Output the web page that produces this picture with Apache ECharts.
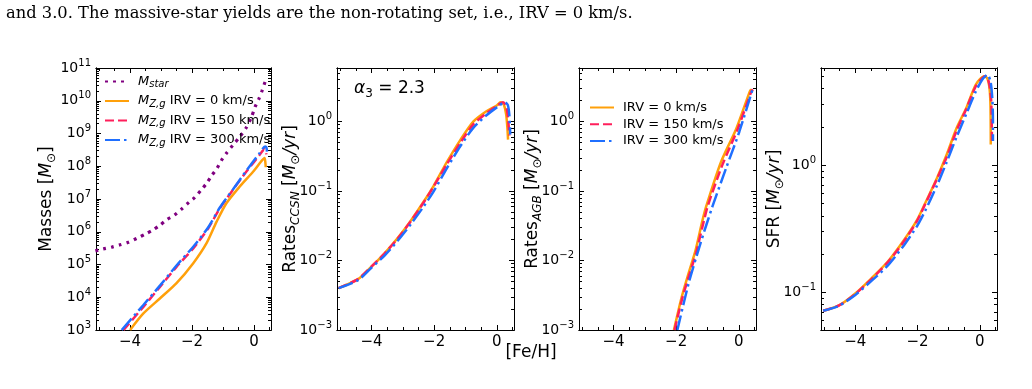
<!DOCTYPE html>
<html>
<head>
<meta charset="utf-8">
<script src="https://cdn.jsdelivr.net/npm/echarts@6/dist/echarts.min.js"></script>
<style>
html, body { margin: 0; padding: 0; background: #fff; }
#chart { width: 1032px; height: 389px; }
</style>
</head>
<body>
<div id="chart"></div>
<script>
// tick labels
const xTicks = [-4, -2, 0]
const xMinorTicks = [-5, -4.5, -3.5, -3, -2.5, -1.5, -1, -0.5, 0.5]
const massTicks = [1e3, 1e4, 1e5, 1e6, 1e7, 1e8, 1e9, 1e10, 1e11]
const rateTicks = [1e-3, 1e-2, 1e-1, 1]
const sfrTicks = [0.1, 1]

// panel 1: masses vs [Fe/H]
const mStarFeH = [-5.12, -4.86, -4.59, -4.32, -4.05, -3.78, -3.51, -3.27, -3.03, -2.8, -2.57, -2.34, -2.1, -1.91, -1.71, -1.53, -1.35, -1.19, -1.05, -0.89, -0.68, -0.46, -0.25, -0.09, 0.04, 0.15, 0.26, 0.36, 0.4]
const mStar = [2.6e5, 3.0e5, 3.4e5, 4.0e5, 4.8e5, 6.3e5, 8.5e5, 1.12e6, 1.6e6, 2.4e6, 3.2e6, 4.9e6, 7.9e6, 1.12e7, 1.86e7, 3.0e7, 5.4e7, 8.7e7, 1.5e8, 2.5e8, 4.4e8, 7.9e8, 1.5e9, 3.0e9, 6.6e9, 1.1e10, 2.0e10, 3.8e10, 4.5e10]
const mZ0FeH = [-4.0, -3.57, -3.03, -2.5, -1.96, -1.53, -1.21, -0.89, -0.46, -0.03, 0.23, 0.34, 0.37, 0.38]
const mZ0 = [1.0e3, 3.2e3, 9.3e3, 2.7e4, 1.1e5, 4.5e5, 2.0e6, 7.4e6, 2.4e7, 6.8e7, 1.4e8, 1.8e8, 1.26e8, 9.3e7]
const mZ150FeH = [-4.21, -3.57, -3.03, -2.5, -1.96, -1.48, -1.1, -0.68, -0.25, 0.18, 0.34, 0.38, 0.4]
const mZ150 = [1.0e3, 5.1e3, 2.1e4, 8.5e4, 3.1e5, 1.26e6, 5.2e6, 1.9e7, 6.8e7, 2.2e8, 3.3e8, 2.8e8, 2.3e8]
const mZ300FeH = [-4.27, -3.57, -3.03, -2.5, -1.96, -1.48, -1.1, -0.68, -0.25, 0.18, 0.36, 0.4, 0.42]
const mZ300 = [1.0e3, 5.8e3, 2.3e4, 9.3e4, 3.5e5, 1.35e6, 5.5e6, 1.95e7, 7.2e7, 2.5e8, 4.0e8, 3.8e8, 2.8e8]

// panel 2: CCSN rates
const ccsn0FeH = [-5.05, -4.43, -4.01, -3.59, -3.17, -2.75, -2.33, -2.01, -1.59, -1.17, -0.75, -0.33, 0.0, 0.12, 0.22, 0.3, 0.34, 0.36]
const ccsn0 = [0.004, 0.0054, 0.0081, 0.0126, 0.0209, 0.0372, 0.0708, 0.12, 0.263, 0.537, 1.0, 1.41, 1.7, 1.9, 1.78, 1.26, 0.8, 0.55]
const ccsn150FeH = [-5.05, -4.43, -4.01, -3.59, -3.17, -2.75, -2.33, -2.01, -1.59, -1.17, -0.75, -0.33, 0.05, 0.2, 0.3, 0.36, 0.4]
const ccsn150 = [0.004, 0.0054, 0.0081, 0.0125, 0.0205, 0.0365, 0.069, 0.117, 0.245, 0.49, 0.91, 1.32, 1.74, 1.9, 1.66, 1.12, 0.63]
const ccsn300FeH = [-5.05, -4.43, -4.01, -3.59, -3.17, -2.75, -2.33, -2.01, -1.59, -1.17, -0.75, -0.33, 0.05, 0.25, 0.35, 0.4, 0.43]
const ccsn300 = [0.004, 0.0052, 0.0078, 0.0117, 0.0191, 0.0331, 0.0603, 0.1, 0.214, 0.437, 0.81, 1.23, 1.66, 1.9, 1.74, 1.26, 0.65]

// panel 3: AGB rates
const agb0FeH = [-2.07, -1.82, -1.6, -1.38, -1.17, -1.04, -0.57, -0.08, 0.35, 0.4]
const agb0 = [1.0e-3, 3.0e-3, 6.6e-3, 1.4e-2, 3.6e-2, 6.0e-2, 0.26, 0.79, 2.7, 2.9]
const agb150FeH = [-2.05, -1.8, -1.58, -1.36, -1.15, -0.98, -0.52, -0.03, 0.4, 0.45]
const agb150 = [1.0e-3, 2.9e-3, 6.2e-3, 1.3e-2, 3.2e-2, 6.3e-2, 0.24, 0.79, 2.7, 2.9]
const agb300FeH = [-1.96, -1.6, -1.22, -0.84, -0.41, 0.02, 0.45]
const agb300 = [1.0e-3, 4.7e-3, 1.78e-2, 6.0e-2, 0.21, 0.72, 3.0]

// panel 4: star formation rate
const sfr0FeH = [-5.03, -4.52, -4.0, -3.48, -2.96, -2.44, -2.02, -1.76, -1.38, -1.07, -0.75, -0.44, -0.13, 0.14, 0.24, 0.31, 0.34, 0.35]
const sfr0 = [0.0716, 0.079, 0.098, 0.129, 0.174, 0.257, 0.37, 0.5, 0.79, 1.2, 1.95, 2.8, 4.3, 5.0, 4.8, 4.0, 2.95, 1.45]
const sfr150FeH = [-5.03, -4.52, -4.0, -3.48, -2.96, -2.44, -2.02, -1.76, -1.38, -1.07, -0.75, -0.44, -0.13, 0.1, 0.2, 0.3, 0.36, 0.38, 0.39]
const sfr150 = [0.0716, 0.079, 0.097, 0.127, 0.172, 0.251, 0.363, 0.49, 0.776, 1.15, 1.86, 2.75, 4.17, 4.9, 5.0, 4.37, 3.31, 2.24, 1.51]
const sfr300FeH = [-5.03, -4.52, -4.0, -3.48, -2.96, -2.44, -2.02, -1.76, -1.38, -1.07, -0.75, -0.44, -0.13, 0.1, 0.24, 0.34, 0.4, 0.42, 0.42]
const sfr300 = [0.0716, 0.0785, 0.0955, 0.123, 0.162, 0.234, 0.331, 0.436, 0.69, 1.05, 1.66, 2.51, 3.8, 4.79, 5.13, 4.57, 3.31, 2.24, 1.55]

const FONT = 'DejaVu Sans'
const PURPLE = '#800080'
const ORANGE = '#ffa00a'
const PINK = '#ff1f5b'
const BLUE = '#1f6fff'

const zip = (xs, ys) => xs.map((x, i) => [x, ys[i]])

const logMinors = (lo, hi) => {
    const out = []
    for (let d = Math.floor(Math.log10(lo)); d <= Math.ceil(Math.log10(hi)); d++) {
        for (let k = 2; k <= 9; k++) {
            const v = k * Math.pow(10, d)
            if (v > lo && v < hi) out.push(v)
        }
    }
    return out
}

const powLabel = v => {
    const e = Math.round(Math.log10(v))
    return '{b|10}{s|' + (e < 0 ? '\u2212' + (-e) : e) + '}'
}

const grids = [
    { left: 96, top: 68, width: 175, height: 262 },
    { left: 337, top: 68, width: 177, height: 262 },
    { left: 579, top: 68, width: 177, height: 262 },
    { left: 821, top: 68, width: 176, height: 262 },
]
const yRanges = [[1e3, 1e11], [1e-3, 5.9], [1e-3, 5.9], [0.0506, 5.8]]
const yMajors = [massTicks, rateTicks, rateTicks, sfrTicks]

const nameRich = {
    r: { fontFamily: FONT, fontSize: 17, lineHeight: 22, color: '#000' },
    i: { fontFamily: FONT, fontSize: 17, lineHeight: 22, fontStyle: 'italic', color: '#000' },
    sub: { fontFamily: FONT, fontSize: 12, lineHeight: 12, fontStyle: 'italic', verticalAlign: 'bottom', color: '#000' },
}
const yNames = [
    { text: '{r|Masses [}{i|M}{sub|\u2299}{r|]}', gap: 38 },
    { text: '{r|Rates}{sub|CCSN}{r| [}{i|M}{sub|\u2299}{i|/yr}{r|]}', gap: 35 },
    { text: '{r|Rates}{sub|AGB}{r| [}{i|M}{sub|\u2299}{i|/yr}{r|]}', gap: 35 },
    { text: '{r|SFR [}{i|M}{sub|\u2299}{i|/yr}{r|]}', gap: 35 },
]

const tickLabelRich = {
    b: { fontFamily: FONT, fontSize: 14, lineHeight: 20, color: '#000' },
    s: { fontFamily: FONT, fontSize: 10, lineHeight: 10, verticalAlign: 'top', color: '#000' },
}

const xAxes = []
const yAxes = []
grids.forEach((g, gi) => {
    const xBase = {
        type: 'value', gridIndex: gi, min: -5.1, max: 0.55,
        splitLine: { show: false },
        axisLine: { show: true, onZero: false, lineStyle: { color: '#000', width: 1 } },
    }
    // bottom with labels, bottom minor, top major, top minor
    xAxes.push({
        ...xBase, position: 'bottom',
        axisTick: { inside: true, length: 5, customValues: xTicks, lineStyle: { color: '#000' } },
        axisLabel: {
            customValues: xTicks, margin: 5, color: '#000', fontFamily: FONT, fontSize: 15,
            formatter: v => (v < 0 ? '\u2212' + (-v) : '' + v),
        },
    })
    xAxes.push({
        ...xBase, position: 'bottom',
        axisTick: { inside: true, length: 3, customValues: xMinorTicks, lineStyle: { color: '#000' } },
        axisLabel: { show: false },
    })
    xAxes.push({
        ...xBase, position: 'top',
        axisTick: { inside: true, length: 5, customValues: xTicks, lineStyle: { color: '#000' } },
        axisLabel: { show: false },
    })
    xAxes.push({
        ...xBase, position: 'top',
        axisTick: { inside: true, length: 3, customValues: xMinorTicks, lineStyle: { color: '#000' } },
        axisLabel: { show: false },
    })

    const [lo, hi] = yRanges[gi]
    const minors = logMinors(lo, hi)
    const yBase = {
        type: 'log', logBase: 10, gridIndex: gi, min: lo, max: hi,
        splitLine: { show: false },
        axisLine: { show: true, onZero: false, lineStyle: { color: '#000', width: 1 } },
    }
    yAxes.push({
        ...yBase, position: 'left',
        name: yNames[gi].text, nameLocation: 'middle', nameRotate: 90, nameGap: yNames[gi].gap,
        nameMoveOverlap: false,
        nameTextStyle: { rich: nameRich },
        axisTick: { inside: true, length: 5, customValues: yMajors[gi], lineStyle: { color: '#000' } },
        axisLabel: {
            customValues: yMajors[gi], margin: 5, formatter: powLabel, rich: tickLabelRich,
        },
    })
    yAxes.push({
        ...yBase, position: 'left',
        axisTick: { inside: true, length: 3, customValues: minors, lineStyle: { color: '#000' } },
        axisLabel: { show: false },
    })
    yAxes.push({
        ...yBase, position: 'right',
        axisTick: { inside: true, length: 5, customValues: yMajors[gi], lineStyle: { color: '#000' } },
        axisLabel: { show: false },
    })
    yAxes.push({
        ...yBase, position: 'right',
        axisTick: { inside: true, length: 3, customValues: minors, lineStyle: { color: '#000' } },
        axisLabel: { show: false },
    })
})

const dashed = [9, 4]
const dashDot = [15, 4, 2.5, 4]
const dotted = [3, 5]

const line = (name, xs, ys, gi, color, type, width) => ({
    name,
    type: 'line',
    xAxisIndex: gi * 4,
    yAxisIndex: gi * 4,
    data: zip(xs, ys),
    symbol: 'none',
    smooth: 0.25,
    lineStyle: { color, width: width || 2.5, type, cap: 'butt' },
    itemStyle: { color },
    z: 3,
})

const series = [
    line('mstar', mStarFeH, mStar, 0, PURPLE, dotted, 3.2),
    line('mz0', mZ0FeH, mZ0, 0, ORANGE, 'solid'),
    line('mz150', mZ150FeH, mZ150, 0, PINK, dashed),
    line('mz300', mZ300FeH, mZ300, 0, BLUE, dashDot),

    line('irv0', ccsn0FeH, ccsn0, 1, ORANGE, 'solid'),
    line('irv150', ccsn150FeH, ccsn150, 1, PINK, dashed),
    line('irv300', ccsn300FeH, ccsn300, 1, BLUE, dashDot),

    line('irv0', agb0FeH, agb0, 2, ORANGE, 'solid'),
    line('irv150', agb150FeH, agb150, 2, PINK, dashed),
    line('irv300', agb300FeH, agb300, 2, BLUE, dashDot),

    line('irv0', sfr0FeH, sfr0, 3, ORANGE, 'solid'),
    line('irv150', sfr150FeH, sfr150, 3, PINK, dashed),
    line('irv300', sfr300FeH, sfr300, 3, BLUE, dashDot),
]

const legendText = {
    mstar: '{i|M}{sub|star}',
    mz0: '{i|M}{sub|Z,g}{t| IRV = 0 km/s}',
    mz150: '{i|M}{sub|Z,g}{t| IRV = 150 km/s}',
    mz300: '{i|M}{sub|Z,g}{t| IRV = 300 km/s}',
    irv0: '{t|IRV = 0 km/s}',
    irv150: '{t|IRV = 150 km/s}',
    irv300: '{t|IRV = 300 km/s}',
}
const legendRich = {
    t: { fontFamily: FONT, fontSize: 13, lineHeight: 16, color: '#000' },
    i: { fontFamily: FONT, fontSize: 13, lineHeight: 16, fontStyle: 'italic', color: '#000' },
    sub: { fontFamily: FONT, fontSize: 10, lineHeight: 10, fontStyle: 'italic', verticalAlign: 'bottom', color: '#000' },
}
const legendBase = {
    orient: 'vertical',
    itemWidth: 24,
    itemHeight: 10,
    padding: 0,
    formatter: n => legendText[n],
    itemStyle: { opacity: 0 },
    textStyle: { rich: legendRich, padding: [0, 0, 0, 4] },
    selectedMode: false,
}

const chart = echarts.init(document.getElementById('chart'), null, { renderer: 'canvas' })
chart.setOption({
    animation: false,
    backgroundColor: '#fff',
    title: [
        {
            text: 'and 3.0. The massive-star yields are the non-rotating set, i.e., IRV = 0 km/s.',
            left: 6, top: 6, padding: 0,
            textStyle: { fontFamily: 'DejaVu Serif', fontSize: 16.3, fontWeight: 'normal', color: '#000' },
        },
        {
            text: '{a|\u03b1}{sub|3}{t| = 2.3}',
            left: 354, top: 78, padding: 0,
            textStyle: {
                fontWeight: 'normal',
                rich: {
                    a: { fontFamily: FONT, fontSize: 17, lineHeight: 22, fontStyle: 'italic', fontWeight: 'normal', color: '#000' },
                    sub: { fontFamily: FONT, fontSize: 12, lineHeight: 12, verticalAlign: 'bottom', fontWeight: 'normal', color: '#000' },
                    t: { fontFamily: FONT, fontSize: 17, lineHeight: 22, fontWeight: 'normal', color: '#000' },
                },
            },
        },
        {
            text: '[Fe/H]',
            left: 531, top: 344, textAlign: 'center', padding: 0,
            textStyle: { fontFamily: FONT, fontSize: 17, fontWeight: 'normal', color: '#000' },
        },
    ],
    legend: [
        { ...legendBase, left: 104, top: 75, itemGap: 5, data: ['mstar', 'mz0', 'mz150', 'mz300'] },
        { ...legendBase, left: 589, top: 101, itemGap: 3.7, data: ['irv0', 'irv150', 'irv300'] },
    ],
    grid: grids,
    xAxis: xAxes,
    yAxis: yAxes,
    series,
})
</script>
</body>
</html>
